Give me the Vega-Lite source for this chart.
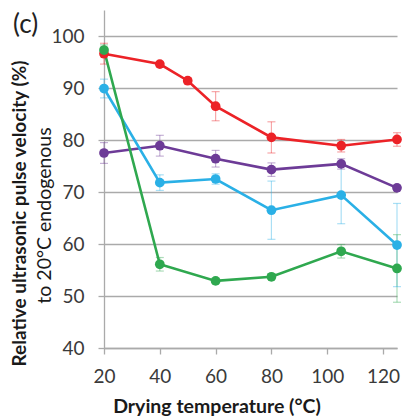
{
  "$schema": "https://vega.github.io/schema/vega-lite/v6.json",
  "autosize": {"type": "none"},
  "padding": {"left": 104, "top": 10, "right": 8, "bottom": 72},
  "width": 293,
  "height": 338,
  "title": {"text": "(c)", "orient": "top", "anchor": "start", "frame": "group", "offset": -21, "dx": -91, "dy": 28, "baseline": "alphabetic", "fontSize": 26, "font": "Lato", "fontWeight": "normal", "color": "#222222"},
  "config": {
    "view": {"stroke": null},
    "font": "Lato",
    "axis": {"labelFont": "Lato", "titleFont": "Lato", "labelColor": "#3a3a3a", "titleColor": "#1a1a1a"}
  },
  "data": {"values": [
    {"series": "A", "temp": 20, "v": 96.6, "lo": 94.6, "hi": 98.6},
    {"series": "A", "temp": 40, "v": 94.6, "lo": 94.1, "hi": 95.1},
    {"series": "A", "temp": 50, "v": 91.4, "lo": 90.9, "hi": 91.9},
    {"series": "A", "temp": 60, "v": 86.5, "lo": 83.7, "hi": 89.3},
    {"series": "A", "temp": 80, "v": 80.5, "lo": 77.5, "hi": 83.5},
    {"series": "A", "temp": 105, "v": 78.9, "lo": 77.7, "hi": 80.1},
    {"series": "A", "temp": 125, "v": 80.1, "lo": 78.8, "hi": 81.4},
    {"series": "B", "temp": 20, "v": 77.5, "lo": 75.5, "hi": 79.5},
    {"series": "B", "temp": 40, "v": 78.9, "lo": 76.9, "hi": 80.9},
    {"series": "B", "temp": 60, "v": 76.4, "lo": 74.8, "hi": 78.0},
    {"series": "B", "temp": 80, "v": 74.3, "lo": 73.0, "hi": 75.6},
    {"series": "B", "temp": 105, "v": 75.4, "lo": 74.4, "hi": 76.4},
    {"series": "B", "temp": 125, "v": 70.8, "lo": 70.3, "hi": 71.3},
    {"series": "C", "temp": 20, "v": 89.9, "lo": 88.1, "hi": 91.7},
    {"series": "C", "temp": 40, "v": 71.8, "lo": 70.3, "hi": 73.3},
    {"series": "C", "temp": 60, "v": 72.5, "lo": 71.5, "hi": 73.5},
    {"series": "C", "temp": 80, "v": 66.5, "lo": 60.9, "hi": 72.1},
    {"series": "C", "temp": 105, "v": 69.4, "lo": 63.9, "hi": 74.9},
    {"series": "C", "temp": 125, "v": 59.8, "lo": 51.8, "hi": 67.8},
    {"series": "D", "temp": 20, "v": 97.3, "lo": 96.3, "hi": 98.3},
    {"series": "D", "temp": 40, "v": 56.1, "lo": 54.8, "hi": 57.4},
    {"series": "D", "temp": 60, "v": 52.9, "lo": 52.4, "hi": 53.4},
    {"series": "D", "temp": 80, "v": 53.7, "lo": 53.2, "hi": 54.2},
    {"series": "D", "temp": 105, "v": 58.6, "lo": 57.3, "hi": 59.9},
    {"series": "D", "temp": 125, "v": 55.3, "lo": 48.8, "hi": 61.8}
  ]},
  "encoding": {
    "x": {"field": "temp", "type": "quantitative",
      "scale": {"domain": [20, 125], "nice": false, "zero": false},
      "axis": {"values": [20, 40, 60, 80, 100, 120], "title": "Drying temperature (°C)", "grid": false, "labelFlush": false,
        "labelFontSize": 19, "labelPadding": 13, "tickSize": 6, "tickColor": "#aaaaaa", "domainColor": "#aaaaaa", "domainWidth": 1.3, "tickWidth": 1.3,
        "titleFontSize": 19.5, "titleFontWeight": "bold", "titleX": 112.5, "titleY": 64, "titleBaseline": "alphabetic", "titleAlign": "center"}},
    "color": {"field": "series", "type": "nominal", "legend": null,
      "scale": {"domain": ["A", "B", "C", "D"], "range": ["#ec2227", "#6d3b97", "#2ab0e6", "#2fa84f"]}}
  },
  "layer": [
    {"mark": {"type": "rule", "opacity": 0.4, "strokeWidth": 1.2},
     "encoding": {"y": {"field": "lo", "type": "quantitative", "scale": {"domain": [40, 105], "nice": false, "zero": false}, "axis": null}, "y2": {"field": "hi"}}},
    {"mark": {"type": "tick", "orient": "horizontal", "size": 8, "thickness": 1.2, "opacity": 0.4},
     "encoding": {"y": {"field": "lo", "type": "quantitative", "scale": {"domain": [40, 105], "nice": false, "zero": false}, "axis": null}}},
    {"mark": {"type": "tick", "orient": "horizontal", "size": 8, "thickness": 1.2, "opacity": 0.4},
     "encoding": {"y": {"field": "hi", "type": "quantitative", "scale": {"domain": [40, 105], "nice": false, "zero": false}, "axis": null}}},
    {"mark": {"type": "line", "strokeWidth": 2.6},
     "encoding": {"y": {"field": "v", "type": "quantitative", "scale": {"domain": [40, 105], "nice": false, "zero": false},
       "axis": {"values": [40, 50, 60, 70, 80, 90, 100], "grid": true, "gridColor": "#aaaaaa", "gridWidth": 1.3,
         "tickSize": 6, "tickColor": "#aaaaaa", "tickWidth": 1.3, "domainColor": "#aaaaaa", "domainWidth": 1.3,
         "labelFontSize": 19, "labelPadding": 14,
         "title": "Relative ultrasonic pulse velocity (%)", "titleFontSize": 19, "titleFontWeight": "bold",
         "titleX": -79, "titleY": 203, "titleAngle": -90, "titleAlign": "center", "titleBaseline": "alphabetic"}}}},
    {"mark": {"type": "point", "filled": true, "size": 95, "opacity": 1},
     "encoding": {"y": {"field": "v", "type": "quantitative", "scale": {"domain": [40, 105], "nice": false, "zero": false},
       "axis": {"orient": "left", "labels": false, "ticks": false, "domain": false, "grid": false,
         "title": "to 20°C endogenous", "titleFontSize": 19.5, "titleFontWeight": "normal",
         "titleX": -54, "titleY": 205, "titleAngle": -90, "titleAlign": "center", "titleBaseline": "alphabetic"}}}}
  ],
  "resolve": {"axis": {"y": "independent"}}
}
